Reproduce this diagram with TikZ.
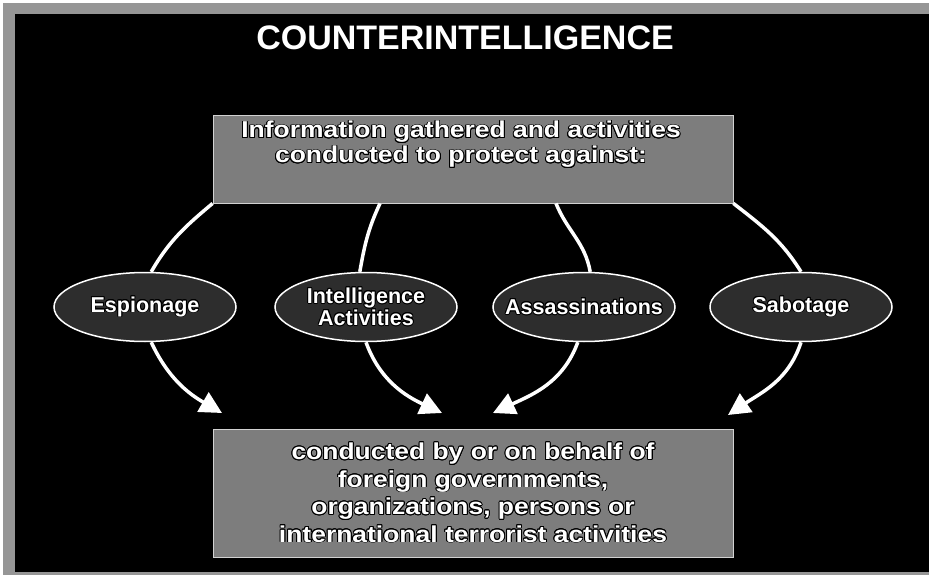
\documentclass[tikz,border=0pt]{standalone}
\usepackage{fontspec}
\setmainfont{Liberation Sans}
\newfontfamily\widefont[FakeStretch=1.15]{Liberation Sans}
\usepackage[copies]{contour}
\contourlength{0.9pt}
\usetikzlibrary{positioning,arrows.meta,shapes.geometric}
\definecolor{framegray}{RGB}{150,150,150}
\definecolor{boxgray}{RGB}{125,125,125}
\definecolor{ovalgray}{RGB}{45,45,45}

\begin{document}
\begin{tikzpicture}[x=1pt,y=1pt,
    font=\bfseries,
    infobox/.style={draw=gray!35,line width=0.8pt,fill=boxgray,minimum width=520pt,
                    inner sep=0pt,align=center,text=white,
                    font=\widefont\bfseries\fontsize{23}{27.5}\selectfont},
    boxtext/.style={align=center,text=white,inner sep=0pt,
                    font=\widefont\bfseries\fontsize{23}{25}\selectfont},
    threat/.style={ellipse,draw=white,line width=1.5pt,fill=ovalgray,
                   minimum width=182pt,minimum height=69pt,inner xsep=-20pt,inner ysep=0pt,
                   align=center,text=white,font=\bfseries\fontsize{21.5}{20}\selectfont},
    link/.style={white,line width=3.5pt},
    flow/.style={link,-{Triangle[length=22pt,width=22pt]}}
]
  \useasboundingbox (0,0) rectangle (929,-575);
  \fill[white] (0,0) rectangle (929,-575);
  \fill[framegray] (3,-3) rectangle (935,-580);
  \fill[black] (15,-14) rectangle (935,-572);

  \node[text=white,font=\bfseries\fontsize{34}{36}\selectfont] (title) at (465,-38) {COUNTERINTELLIGENCE};

  \node[infobox,minimum height=88pt] (gather) at (473,-159) {};
  \node[boxtext] (gathertext) at (461,-145) {\contour{black}{Information gathered and activities}\\
                                             \contour{black}{conducted to protect against:}};

  \node[threat] (spy) at (145,-307) {\contour{black}{Espionage}};
  \node[threat] (intel) at (366,-307) {\contour{black}{Intelligence}\\\contour{black}{Activities}};
  \node[threat] (murder) at (584,-307) {\contour{black}{Assassinations}};
  \node[threat] (sabot) at (801,-307) {\contour{black}{Sabotage}};

  \node[infobox,minimum height=128pt] (actors) at (473,-493) {\contour{black}{conducted by or on behalf of}\\
    \contour{black}{foreign governments,}\\
    \contour{black}{organizations, persons or}\\
    \contour{black}{international terrorist activities}};

  \coordinate (tipA) at (222,-413);
  \coordinate (tipB) at (442,-413);
  \coordinate (tipC) at (493,-413);
  \coordinate (tipD) at (728,-415);

  \draw[link] (gather.south west) to[out=220,in=60] (spy.80);
  \draw[link] ([xshift=-93pt]gather.south) to[out=245,in=80] (intel.100);
  \draw[link] ([xshift=83pt]gather.south) to[out=-68,in=100] (murder.80);
  \draw[link] (gather.south east) to[out=-38,in=122] (sabot.north);

  \draw[flow] (spy.-80) to[out=-65,in=150] (tipA);
  \draw[flow] (intel.south) to[out=-70,in=155] (tipB);
  \draw[flow] (murder.-100) to[out=-110,in=25] (tipC);
  \draw[flow] (sabot.south) to[out=-108,in=34] (tipD);
\end{tikzpicture}
\end{document}
